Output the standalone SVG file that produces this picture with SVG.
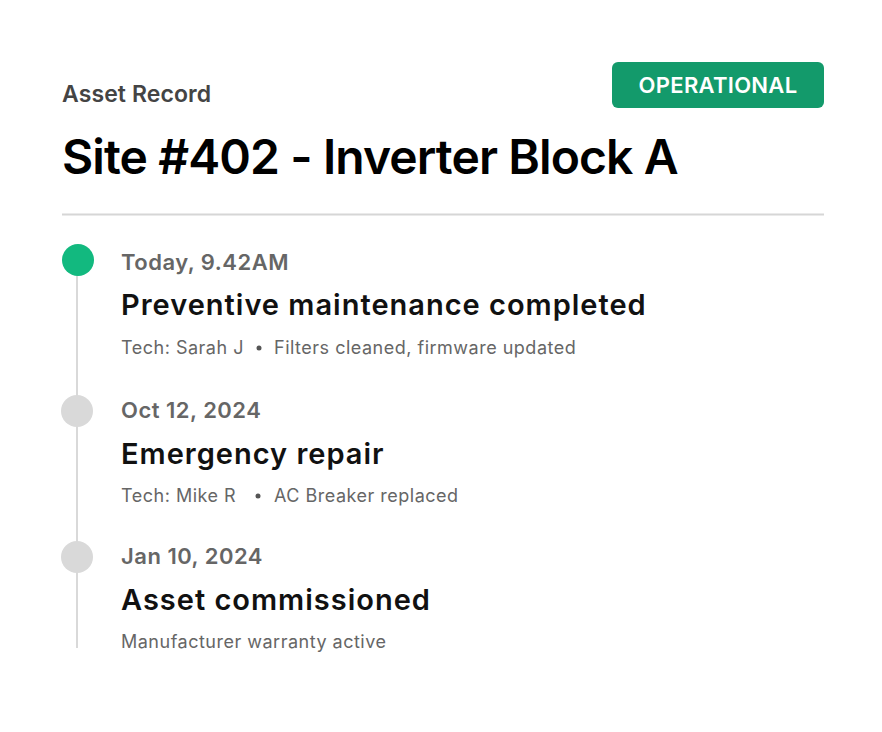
<svg xmlns="http://www.w3.org/2000/svg" width="882" height="732" viewBox="0 0 882 732">
<style>
text{font-family:Inter,"Noto Sans","Liberation Sans",sans-serif}
.eyebrow{font-size:23px;font-weight:600;fill:#444;letter-spacing:0.1px}
.title{font-size:48px;font-weight:600;fill:#000;letter-spacing:-0.9px}
.badge{font-size:22px;font-weight:600;fill:#fff;letter-spacing:0.3px}
.date{font-size:22px;font-weight:600;fill:#666;letter-spacing:0.5px}
.head{font-size:29px;font-weight:600;fill:#111;letter-spacing:1px}
.meta{font-size:18px;font-weight:400;fill:#666;letter-spacing:0.5px}
.dot{fill:#d9d9d9}
</style>
<rect width="882" height="732" fill="#fff"/>
<g id="header">
<text class="eyebrow" x="62" y="102">Asset Record</text>
<text class="title" x="62" y="174">Site #402 - Inverter Block A</text>
</g>
<g id="badge">
<rect x="612" y="62" width="212" height="46" rx="6" fill="#139a6b"/>
<text class="badge" x="718" y="93" text-anchor="middle">OPERATIONAL</text>
</g>
<line x1="62" y1="214.5" x2="824" y2="214.5" stroke="#d6d6d6" stroke-width="2"/>
<g id="connectors">
<line x1="77" y1="260" x2="77" y2="648" stroke="#d9d9d9" stroke-width="2"/>
</g>
<g id="event1">
<circle cx="78" cy="260" r="16" fill="#12b97f"/>
<text class="date" x="121" y="270">Today, 9.42AM</text>
<text class="head" x="121" y="315">Preventive maintenance completed</text>
<text class="meta" x="121" y="354">Tech: Sarah J</text>
<circle cx="259" cy="348" r="2.5" fill="#555"/>
<text class="meta" x="274" y="354">Filters cleaned, firmware updated</text>
</g>
<g id="event2">
<circle class="dot" cx="77" cy="411" r="16"/>
<text class="date" x="121" y="418">Oct 12, 2024</text>
<text class="head" x="121" y="464">Emergency repair</text>
<text class="meta" x="121" y="502">Tech: Mike R</text>
<circle cx="258" cy="496" r="2.5" fill="#555"/>
<text class="meta" x="274" y="502">AC Breaker replaced</text>
</g>
<g id="event3">
<circle class="dot" cx="77" cy="557" r="16"/>
<text class="date" x="121" y="564">Jan 10, 2024</text>
<text class="head" x="121" y="610">Asset commissioned</text>
<text class="meta" x="121" y="648">Manufacturer warranty active</text>
</g>
</svg>
